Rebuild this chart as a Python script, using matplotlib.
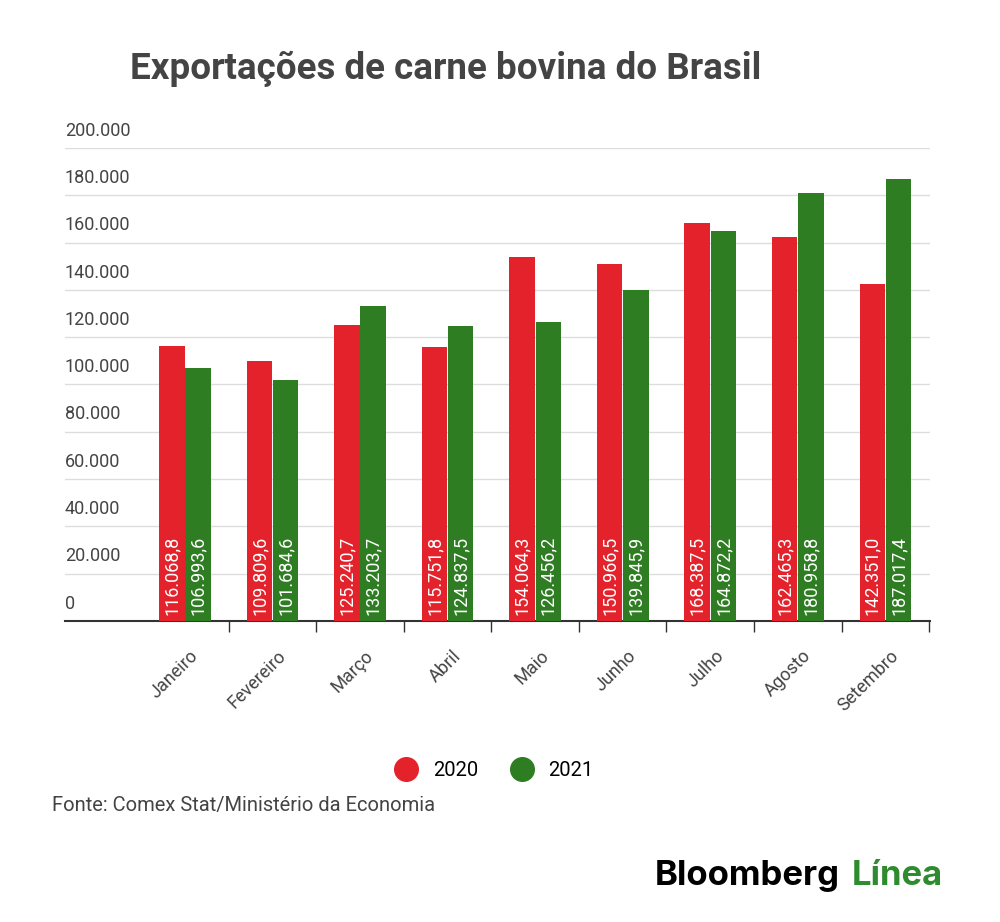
import numpy as np
import matplotlib
matplotlib.use("Agg")
import matplotlib.pyplot as plt
from matplotlib.lines import Line2D

months = ["Janeiro", "Fevereiro", "Março", "Abril", "Maio", "Junho", "Julho", "Agosto", "Setembro"]
v2020 = [116068.8, 109809.6, 125240.7, 115751.8, 154064.3, 150966.5, 168387.5, 162465.3, 142351.0]
v2021 = [106993.6, 101684.6, 133203.7, 124837.5, 126456.2, 139845.9, 164872.2, 180958.8, 187017.4]
yticks = [0, 20000, 40000, 60000, 80000, 100000, 120000, 140000, 160000, 180000, 200000]

RED = "#e3222b"
GREEN = "#2f7d23"
plt.rcParams["font.family"] = ["Roboto", "DejaVu Sans"]


def fmt(v, dec=True):
    s = f"{v:,.1f}" if dec else f"{v:,.0f}"
    return s.replace(",", "X").replace(".", ",").replace("X", ".")


fig = plt.figure(figsize=(10, 9.22), dpi=100)
ax = fig.add_axes([0.065, 0.3265, 0.865, 0.513])
x = np.arange(len(months))
w = 0.29
ax.bar(x - 0.15, v2020, w, color=RED, zorder=3)
ax.bar(x + 0.15, v2021, w, color=GREEN, zorder=3)
for i in range(len(months)):
    for xx, v in ((x[i] - 0.15, v2020[i]), (x[i] + 0.15, v2021[i])):
        ax.text(xx, 2500, fmt(v), rotation=90, ha="center", va="bottom",
                color="white", fontsize=13, zorder=4)

ax.set_xlim(-1.37, 8.51)
ax.set_ylim(0, 200000)
ax.set_yticks(yticks)
ax.set_yticklabels([])
ax.tick_params(axis="y", length=0)
ax.grid(axis="y", color="#dddddd", lw=1, zorder=0)
for t in yticks:
    ax.text(0.0, t + 3500, fmt(t, False), transform=ax.get_yaxis_transform(),
            ha="left", va="bottom", fontsize=13, color="#444444")

ax.set_xticks(x + 0.5, minor=False)
ax.set_xticklabels([])
ax.tick_params(axis="x", length=8, color="#333333", width=1)
for i, m in enumerate(months):
    ax.text(x[i] + 0.05, -11000, m, rotation=45, ha="right", va="top",
            fontsize=13, color="#444444", rotation_mode="anchor")
for s in ["top", "right", "left"]:
    ax.spines[s].set_visible(False)
ax.spines["bottom"].set_color("#333333")
ax.spines["bottom"].set_linewidth(1.5)

fig.text(0.13, 0.925, "Exportações de carne bovina do Brasil", fontsize=26.5,
         fontweight="bold", color="#444444", va="center")
handles = [Line2D([], [], marker="o", ls="", color=RED, markersize=17),
           Line2D([], [], marker="o", ls="", color=GREEN, markersize=17)]
fig.legend(handles, ["2020", "2021"], loc="center", bbox_to_anchor=(0.49, 0.164),
           ncol=2, frameon=False, fontsize=14.5, handletextpad=0.3, columnspacing=1.2)
fig.text(0.052, 0.126, "Fonte: Comex Stat/Ministério da Economia", fontsize=14.5,
         color="#444444", va="center")
fig.text(0.655, 0.05, "Bloomberg", fontsize=25, fontweight="bold", color="black",
         va="center", family=["Inter", "DejaVu Sans"])
fig.text(0.852, 0.05, "Línea", fontsize=25, fontweight="bold", color="#2e8b2e",
         va="center", family=["Inter", "DejaVu Sans"])

fig.savefig("out.png", dpi=100, facecolor="white")
